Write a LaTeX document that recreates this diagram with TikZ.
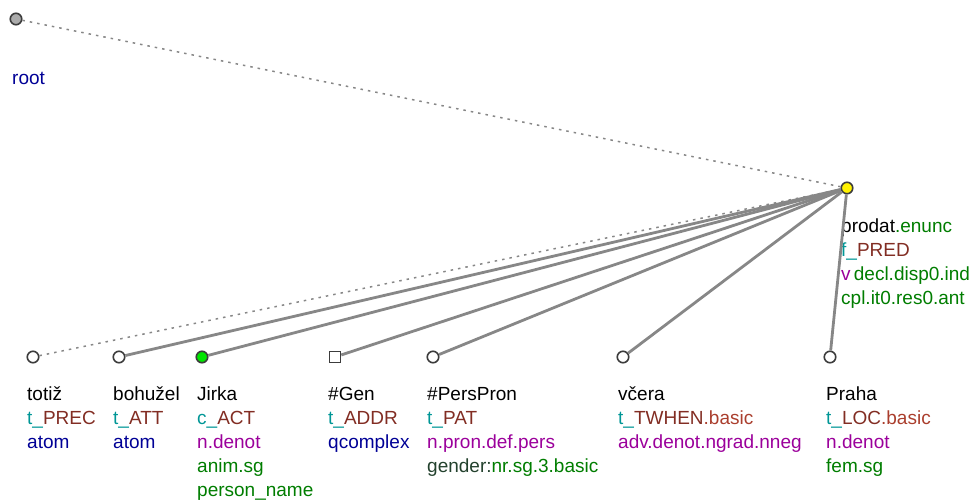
\documentclass[tikz,border=0pt]{standalone}
\usepackage{fontspec}
\setmainfont{Liberation Sans}
\usepackage{xcolor}
\usetikzlibrary{positioning}
\definecolor{tfteal}{RGB}{0,150,150}
\definecolor{functorbrown}{RGB}{130,45,35}
\definecolor{subfbrown}{RGB}{170,62,45}
\definecolor{typeblue}{RGB}{0,0,150}
\definecolor{semposviolet}{RGB}{155,0,155}
\definecolor{gramgreen}{RGB}{0,125,0}
\definecolor{gramkey}{RGB}{35,65,45}
\definecolor{edgegray}{RGB}{135,135,135}
\definecolor{nodeline}{RGB}{60,60,60}
\newcommand{\firstline}{\rule{0pt}{20pt}}

\begin{document}
\begin{tikzpicture}[
        x=1pt, y=-1pt,
        tnode/.style={circle, draw=nodeline, fill=white, line width=1.6pt, minimum size=11.5pt, inner sep=0pt},
        qnode/.style={rectangle, draw=nodeline, fill=white, line width=1.6pt, minimum size=11pt, inner sep=0pt},
        lbl/.style={anchor=north west, inner sep=0pt, align=left, font=\fontsize{19}{24}\selectfont},
        edge/.style={edgegray, line width=2.8pt},
        hidden/.style={edgegray, line width=1.5pt, dash pattern=on 2.5pt off 5pt}
    ]
        \useasboundingbox (0,0) rectangle (979,503);

        % nodes
        \node[tnode, fill=black!33] (root) at (16,19) {};
        \node[tnode, fill=yellow] (prodat) at (847,188) {};
        \node[tnode] (totiz) at (33,357) {};
        \node[tnode] (bohuzel) at (119,357) {};
        \node[tnode, fill=green!90!black] (jirka) at (202,357) {};
        \node[qnode] (gen) at (335,357) {};
        \node[tnode] (perspron) at (433,357) {};
        \node[tnode] (vcera) at (623,357) {};
        \node[tnode] (praha) at (830,357) {};

        % labels
        \node[lbl] (rootlbl) at (12,64) {\firstline\textcolor{typeblue}{root}};
        \node[lbl] (prodatlbl) at (841,212) {\firstline prodat\textcolor{gramgreen}{.enunc}\\
            \textcolor{tfteal}{f\_}\textcolor{functorbrown}{PRED}\\
            \textcolor{semposviolet}{v}\,\textcolor{gramgreen}{decl.disp0.ind}\\
            \textcolor{gramgreen}{cpl.it0.res0.ant}};
        \node[lbl] (totizlbl) at (27,380) {\firstline totiž\\
            \textcolor{tfteal}{t\_}\textcolor{functorbrown}{PREC}\\
            \textcolor{typeblue}{atom}};
        \node[lbl] (bohuzellbl) at (113,380) {\firstline bohužel\\
            \textcolor{tfteal}{t\_}\textcolor{functorbrown}{ATT}\\
            \textcolor{typeblue}{atom}};
        \node[lbl] (jirkalbl) at (197,380) {\firstline Jirka\\
            \textcolor{tfteal}{c\_}\textcolor{functorbrown}{ACT}\\
            \textcolor{semposviolet}{n.denot}\\
            \textcolor{gramgreen}{anim.sg}\\
            \textcolor{gramgreen}{person\_name}};
        \node[lbl] (genlbl) at (328,380) {\firstline \#Gen\\
            \textcolor{tfteal}{t\_}\textcolor{functorbrown}{ADDR}\\
            \textcolor{typeblue}{qcomplex}};
        \node[lbl] (persspronlbl) at (427,380) {\firstline \#PersPron\\
            \textcolor{tfteal}{t\_}\textcolor{functorbrown}{PAT}\\
            \textcolor{semposviolet}{n.pron.def.pers}\\
            \textcolor{gramkey}{gender:}\textcolor{gramgreen}{nr.sg.3.basic}};
        \node[lbl] (vceralbl) at (618,380) {\firstline včera\\
            \textcolor{tfteal}{t\_}\textcolor{functorbrown}{TWHEN}\textcolor{subfbrown}{.basic}\\
            \textcolor{semposviolet}{adv.denot.ngrad.nneg}};
        \node[lbl] (prahalbl) at (826,380) {\firstline Praha\\
            \textcolor{tfteal}{t\_}\textcolor{functorbrown}{LOC}\textcolor{subfbrown}{.basic}\\
            \textcolor{semposviolet}{n.denot}\\
            \textcolor{gramgreen}{fem.sg}};

        % edges
        \draw[hidden] (root) -- (prodat);
        \draw[hidden] (totiz) -- (prodat);
        \draw[edge] (bohuzel) -- (prodat);
        \draw[edge] (jirka) -- (prodat);
        \draw[edge] (gen) -- (prodat);
        \draw[edge] (perspron) -- (prodat);
        \draw[edge] (vcera) -- (prodat);
        \draw[edge] (praha) -- (prodat);
    \end{tikzpicture}
\end{document}
